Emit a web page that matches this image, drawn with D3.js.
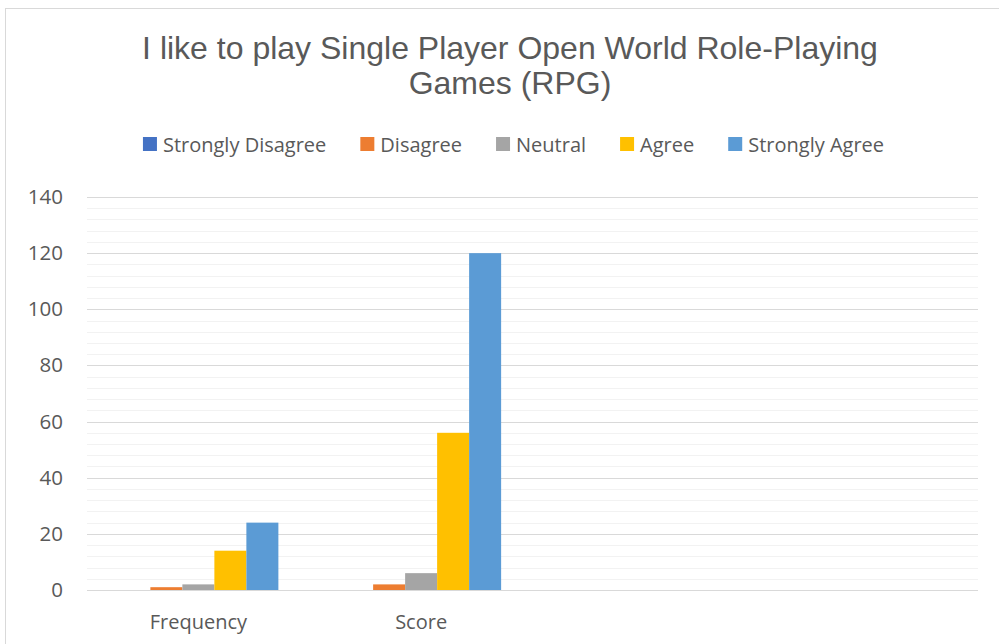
<!DOCTYPE html>
<html>
<head>
<meta charset="utf-8">
<script src="https://cdn.jsdelivr.net/npm/d3@7"></script>
<style>
  body { margin: 0; background: #fff; }
</style>
</head>
<body>
<div id="chart"></div>
<script>
// chart data
var categories = ["Frequency", "Score", "", " "];
var seriesNames = ["Strongly Disagree", "Disagree", "Neutral", "Agree", "Strongly Agree"];
var seriesColors = ["#4472c4", "#ed7d31", "#a5a5a5", "#ffc000", "#5b9bd5"];
var frequencyValues = [0, 1, 2, 14, 24];
var scoreValues = [0, 2, 6, 56, 120];
var yTicks = [0, 20, 40, 60, 80, 100, 120, 140];
var minorTicks = [4, 8, 12, 16, 24, 28, 32, 36, 44, 48, 52, 56, 64, 68, 72, 76, 84, 88, 92, 96,
                  104, 108, 112, 116, 124, 128, 132, 136];

var valuesByCategory = [frequencyValues, scoreValues, [], []];

var W = 999, H = 644;
var margin = {top: 197, right: 21, bottom: 54, left: 87},
    width = W - margin.left - margin.right,
    height = H - margin.top - margin.bottom;

var root = d3.select("#chart")
  .append("svg")
    .attr("width", W)
    .attr("height", H);

// outer chart border
root.append("rect")
  .attr("x", 5.5)
  .attr("y", 8.5)
  .attr("width", W + 10)
  .attr("height", H + 10)
  .attr("fill", "#fff")
  .attr("stroke", "#d9d9d9");

// title
var title = root.append("text")
  .attr("text-anchor", "middle")
  .style("font-family", "Liberation Sans, Arial, sans-serif")
  .style("font-size", "32px")
  .style("fill", "#595959");
title.append("tspan").attr("x", 510).attr("y", 59).text("I like to play Single Player Open World Role-Playing");
title.append("tspan").attr("x", 510).attr("y", 94).text("Games (RPG)");

var svg = root.append("g")
  .attr("transform", "translate(" + margin.left + "," + margin.top + ")");

var x = d3.scaleBand()
  .domain(categories)
  .range([0, width]);

var y = d3.scaleLinear()
  .domain([0, 140])
  .range([height, 0]);

// minor gridlines
svg.append("g")
  .selectAll("line")
  .data(minorTicks)
  .enter().append("line")
    .attr("x1", 0)
    .attr("x2", width)
    .attr("y1", function(d) { return Math.round(y(d)) + 0.5; })
    .attr("y2", function(d) { return Math.round(y(d)) + 0.5; })
    .attr("stroke", "#f2f2f2");

// major gridlines
svg.append("g")
  .selectAll("line")
  .data(yTicks)
  .enter().append("line")
    .attr("x1", 0)
    .attr("x2", width)
    .attr("y1", function(d) { return Math.round(y(d)) + 0.5; })
    .attr("y2", function(d) { return Math.round(y(d)) + 0.5; })
    .attr("stroke", "#d9d9d9");

// y axis labels
var yAxis = svg.append("g")
  .attr("transform", "translate(-24,0)")
  .call(d3.axisLeft(y).tickValues(yTicks).tickSize(0).tickPadding(0));
yAxis.select(".domain").remove();
yAxis.selectAll("text")
  .style("font-family", "Open Sans, sans-serif")
  .style("font-size", "20.5px")
  .style("fill", "#595959");

// x axis labels
var xAxis = svg.append("g")
  .attr("transform", "translate(0," + height + ")")
  .call(d3.axisBottom(x).tickSize(0).tickPadding(0));
xAxis.select(".domain").remove();
xAxis.selectAll("text")
  .attr("dy", null)
  .attr("y", 39)
  .style("font-family", "Open Sans, sans-serif")
  .style("font-size", "20px")
  .style("fill", "#595959");

var xSub = d3.scaleBand()
  .domain(seriesNames)
  .range([0, 160]);

svg.append("g")
  .selectAll("g")
  .data(categories)
  .enter().append("g")
    .attr("transform", function(d) { return "translate(" + (x(d) + x.bandwidth() / 2 - 80) + ",0)"; })
  .selectAll("rect")
  .data(function(d, i) {
    return valuesByCategory[i].map(function(v, j) { return {key: seriesNames[j], value: v, color: seriesColors[j]}; });
  })
  .enter().append("rect")
    .attr("x", function(d) { return xSub(d.key); })
    .attr("y", function(d) { return y(d.value); })
    .attr("width", xSub.bandwidth())
    .attr("height", function(d) { return height - y(d.value); })
    .attr("fill", function(d) { return d.color; });

// legend, laid out from measured text widths and centred
var gap = 34;
var legend = root.append("g");
var items = legend.selectAll("g")
  .data(seriesNames)
  .enter().append("g");
items.append("rect")
  .attr("y", 137)
  .attr("width", 14)
  .attr("height", 14)
  .attr("fill", function(d, i) { return seriesColors[i]; });
items.append("text")
  .attr("x", 20)
  .attr("y", 152)
  .text(function(d) { return d; })
  .style("font-family", "Open Sans, sans-serif")
  .style("font-size", "20px")
  .style("fill", "#595959");
var pos = 0;
items.each(function() {
  var w = d3.select(this).select("text").node().getComputedTextLength();
  d3.select(this).attr("transform", "translate(" + pos + ",0)");
  pos += 20 + w + gap;
});
var total = pos - gap;
legend.attr("transform", "translate(" + (513.5 - total / 2) + ",0)");
</script>
</body>
</html>
